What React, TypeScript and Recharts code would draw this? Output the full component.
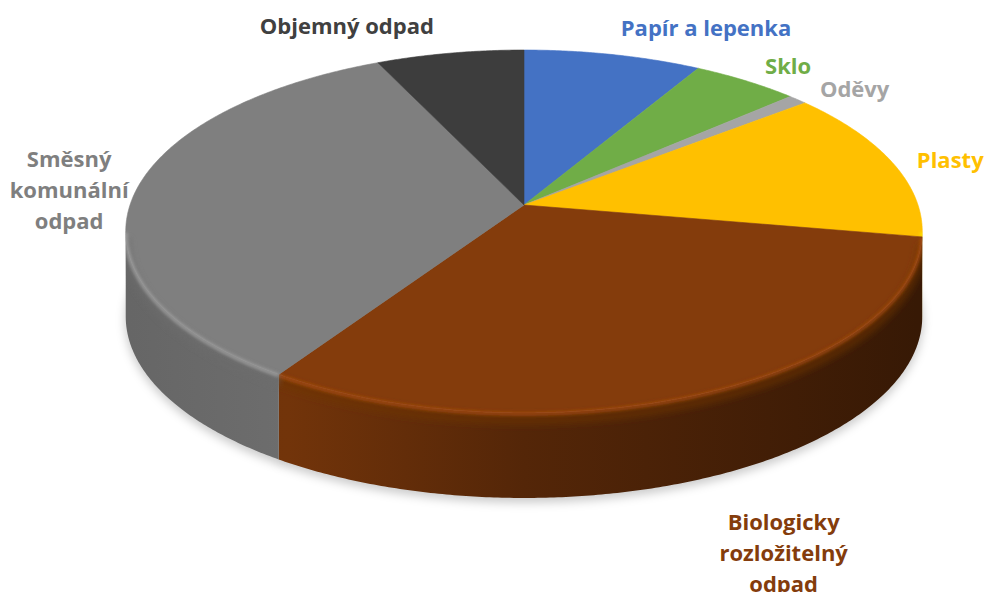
import React from 'react';
import { PieChart, Pie, Cell } from 'recharts';

// ---- data ----
const CATEGORIES = [
  'Papír a lepenka',
  'Sklo',
  'Oděvy',
  'Plasty',
  'Biologicky rozložitelný odpad',
  'Směsný komunální odpad',
  'Objemný odpad',
];
const SHARES = [8.3, 5.0, 0.9, 13.6, 31.4, 33.9, 6.9];
const COLORS = ['#4472C4', '#70AD47', '#A5A5A5', '#FFC000', '#843C0C', '#7F7F7F', '#3D3D3D'];
const LABEL_COLORS = ['#4472C4', '#70AD47', '#A5A5A5', '#FFC000', '#843C0C', '#7F7F7F', '#404040'];

const data = CATEGORIES.map((name, i) => ({ name, value: SHARES[i] }));

// ---- 3D styling ----
const W = 992;
const H = 600;
const CX = 524;
const CY = 205;
const R = 394;
const Y_RATIO = 177.6 / 394;
const PERSP = 0.146;
const DEPTH = 85;
const PHI_L = (Math.acos(-PERSP) * 180) / Math.PI;
const PHI_R = 360 - PHI_L;

const LABEL_LAYOUT: Record<string, { dx: number; dy: number; wrap: boolean }> = {
  'Papír a lepenka': { dx: 93, dy: -19, wrap: false },
  Sklo: { dx: 42, dy: -7, wrap: false },
  'Oděvy': { dx: 57, dy: -3, wrap: false },
  Plasty: { dx: 58, dy: 6, wrap: false },
  'Biologicky rozložitelný odpad': { dx: 79, dy: 137, wrap: true },
  'Směsný komunální odpad': { dx: -66, dy: -25, wrap: true },
  'Objemný odpad': { dx: -103, dy: -19, wrap: false },
};

function proj(cx: number, cy: number, r: number, phiDeg: number, dy = 0, k = 1): [number, number] {
  const t = (phiDeg * Math.PI) / 180;
  const s = Math.sin(t) * k;
  const c = Math.cos(t) * k;
  const den = 1 + PERSP * c;
  return [cx + (r * s) / den, cy - (r * Y_RATIO * c) / den + dy];
}

function arcPts(cx: number, cy: number, r: number, a: number, b: number, dy = 0, k = 1) {
  const n = Math.max(2, Math.ceil(Math.abs(b - a) / 0.5));
  const pts: [number, number][] = [];
  for (let i = 0; i <= n; i++) pts.push(proj(cx, cy, r, a + ((b - a) * i) / n, dy, k));
  return pts;
}

const toPath = (pts: [number, number][]) =>
  pts.map((p, i) => `${i ? 'L' : 'M'}${p[0].toFixed(2)},${p[1].toFixed(2)}`).join(' ');

function shade(hex: string, f: number) {
  const n = parseInt(hex.slice(1), 16);
  const ch = (v: number) => Math.max(0, Math.min(255, Math.round(v * f))).toString(16).padStart(2, '0');
  return `#${ch((n >> 16) & 255)}${ch((n >> 8) & 255)}${ch(n & 255)}`;
}

// silhouette of the whole disc (top face + visible side) used to clip soft rim shading
const SILHOUETTE =
  toPath(arcPts(CX, CY, R, PHI_R - 360, PHI_L)) +
  ' ' +
  toPath(arcPts(CX, CY, R, PHI_L, PHI_R, DEPTH)).replace(/^M/, 'L') +
  ' Z';

function SliceShape(props: any) {
  const { cx, cy, outerRadius, startAngle, endAngle, fill } = props;
  const p1 = 90 - startAngle;
  const p2 = 90 - endAngle;
  const a1 = Math.min(p1, p2);
  const a2 = Math.max(p1, p2);
  const top = arcPts(cx, cy, outerRadius, a1, a2);
  const topPath = `M${cx},${cy} ` + toPath(top).replace(/^M/, 'L') + ' Z';
  const a = Math.max(a1, PHI_L);
  const b = Math.min(a2, PHI_R);
  const gid = 'side' + String(fill).slice(1);
  let side = null;
  let rim = null;
  if (a < b) {
    const upper = arcPts(cx, cy, outerRadius, a, b);
    const lower = arcPts(cx, cy, outerRadius, b, a, DEPTH);
    side = <path d={toPath(upper) + ' ' + toPath(lower).replace(/^M/, 'L') + ' Z'} fill={`url(#${gid})`} />;
    rim = (
      <g clipPath="url(#discClip)">
        <path
          d={toPath(arcPts(cx, cy, outerRadius, a, b, 7))}
          fill="none"
          stroke={shade(fill, 0.85)}
          strokeWidth={10}
          strokeOpacity={0.55}
          filter="url(#rimBlur2)"
        />
        <path
          d={toPath(arcPts(cx, cy, outerRadius, a, b, 1))}
          fill="none"
          stroke={shade(fill, 1.28)}
          strokeWidth={4}
          strokeOpacity={0.75}
          filter="url(#rimBlur)"
        />
      </g>
    );
  }
  return (
    <g>
      {side}
      <path d={topPath} fill={fill} stroke={fill} strokeWidth={0.6} />
      {rim}
    </g>
  );
}

function ShadowShape(props: any) {
  const { cx, cy, outerRadius, startAngle, endAngle } = props;
  const p1 = 90 - startAngle;
  const p2 = 90 - endAngle;
  const a1 = Math.min(p1, p2);
  const a2 = Math.max(p1, p2);
  const pts = arcPts(cx, cy, outerRadius, a1, a2, DEPTH + 4);
  const d = `M${cx},${cy + DEPTH + 4} ` + toPath(pts).replace(/^M/, 'L') + ' Z';
  return <path d={d} fill="#000" fillOpacity={0.2} stroke="#000" strokeOpacity={0.2} strokeWidth={1} filter="url(#shadowBlur)" />;
}

function renderLabel(props: any) {
  const { cx, cy, midAngle, outerRadius } = props;
  const name: string = props.name ?? props.payload?.name;
  const idx = CATEGORIES.indexOf(name);
  const lay = LABEL_LAYOUT[name];
  if (!lay) return null;
  const phi = 90 - midAngle;
  const [ax, ay] = proj(cx, cy, outerRadius, phi);
  const x = ax + lay.dx;
  const y = ay + lay.dy;
  const lines = lay.wrap ? name.split(' ') : [name];
  return (
    <text
      x={x}
      y={y}
      textAnchor="middle"
      fill={LABEL_COLORS[idx]}
      style={{ fontFamily: '"Open Sans", Lato, sans-serif', fontWeight: 700, fontSize: 22 }}
    >
      {lines.map((l, i) => (
        <tspan key={i} x={x} dy={i === 0 ? 0 : 31}>
          {l}
        </tspan>
      ))}
    </text>
  );
}

export default function App() {
  return (
    <div style={{ margin: -8, width: W, height: H, background: '#fff' }}>
      <PieChart width={W} height={H} margin={{ top: 0, right: 0, bottom: 0, left: 0 }}>
        <defs>
          <clipPath id="discClip">
            <path d={SILHOUETTE} />
          </clipPath>
          <filter id="shadowBlur" filterUnits="userSpaceOnUse" x={0} y={0} width={W} height={H}>
            <feGaussianBlur stdDeviation={5} />
          </filter>
          <filter id="rimBlur" filterUnits="userSpaceOnUse" x={0} y={0} width={W} height={H}>
            <feGaussianBlur stdDeviation={1.5} />
          </filter>
          <filter id="rimBlur2" filterUnits="userSpaceOnUse" x={0} y={0} width={W} height={H}>
            <feGaussianBlur stdDeviation={3} />
          </filter>
          {COLORS.map((c) => (
            <linearGradient
              key={c}
              id={'side' + c.slice(1)}
              gradientUnits="userSpaceOnUse"
              x1={CX - R}
              y1={0}
              x2={CX + R}
              y2={0}
            >
              <stop offset="0" stopColor={shade(c, 0.8)} />
              <stop offset="0.2" stopColor={shade(c, 0.86)} />
              <stop offset="0.5" stopColor={shade(c, 0.64)} />
              <stop offset="1" stopColor={shade(c, 0.42)} />
            </linearGradient>
          ))}
        </defs>
        <Pie
          data={data}
          dataKey="value"
          nameKey="name"
          cx={CX}
          cy={CY}
          outerRadius={R}
          startAngle={90}
          endAngle={-270}
          stroke="none"
          shape={ShadowShape}
          label={false}
          labelLine={false}
          isAnimationActive={false}
        >
          {data.map((d, i) => (
            <Cell key={d.name} fill={COLORS[i]} />
          ))}
        </Pie>
        <Pie
          data={data}
          dataKey="value"
          nameKey="name"
          cx={CX}
          cy={CY}
          outerRadius={R}
          startAngle={90}
          endAngle={-270}
          stroke="none"
          shape={SliceShape}
          label={renderLabel}
          labelLine={false}
          isAnimationActive={false}
        >
          {data.map((d, i) => (
            <Cell key={d.name} fill={COLORS[i]} />
          ))}
        </Pie>
      </PieChart>
    </div>
  );
}
